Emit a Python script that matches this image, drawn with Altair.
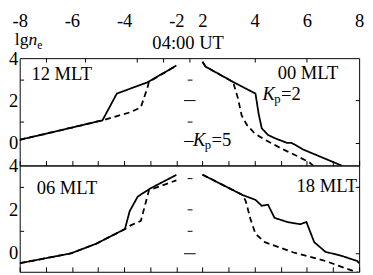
import altair as alt
import pandas as pd

FONT = "Liberation Serif"

# ---------------- data (x: distance coordinate, y: lg ne) ----------------
# top row, left: 12 MLT
p12_solid_x = [-8.0, -6.5, -4.83, -4.28, -3.11, -2.0]
p12_solid_y = [0.15, 0.58, 1.07, 2.33, 2.86, 3.65]
p12_dash_x = [-8.0, -6.5, -4.83, -3.73, -3.36, -3.11, -3.05, -2.0]
p12_dash_y = [0.15, 0.58, 1.07, 1.46, 1.69, 2.6, 2.88, 3.65]

# top row, right: 00 MLT
p00_solid_x = [2.0, 2.12, 3.17, 4.03, 4.15, 4.27, 4.51, 4.76, 5.25, 5.42, 5.86, 7.2, 7.35]
p00_solid_y = [3.83, 3.6, 2.88, 2.33, 1.38, 0.69, 0.38, 0.23, 0.0, 0.0, -0.31, -1.0, -1.08]
p00_dash_x = [2.0, 2.12, 3.17, 3.35, 3.5, 3.7, 4.0, 4.4, 5.0, 5.6, 6.1, 6.25]
p00_dash_y = [3.83, 3.6, 2.88, 2.15, 1.3, 0.85, 0.45, 0.15, -0.25, -0.6, -0.92, -1.08]

# bottom row, left: 06 MLT
p06_solid_x = [-8.0, -6.04, -5.07, -3.97, -3.79, -3.48, -3.0, -2.0]
p06_solid_y = [-0.46, -0.01, 0.43, 1.1, 1.91, 2.58, 2.95, 3.57]
p06_dash_x = [-8.0, -6.04, -5.07, -3.97, -3.73, -3.36, -3.18, -3.05, -2.0]
p06_dash_y = [-0.46, -0.01, 0.43, 1.1, 1.28, 1.47, 2.28, 2.87, 3.32]

# bottom row, right: 18 MLT
p18_solid_x = [2.0, 3.54, 4.03, 4.27, 4.51, 4.76, 5.25, 5.74, 5.98, 6.28, 6.71, 7.32, 7.93, 8.0]
p18_solid_y = [3.58, 2.65, 2.43, 2.16, 2.21, 1.61, 1.42, 1.32, 1.42, 0.5, 0.06, -0.12, -0.36, -0.46]
p18_dash_x = [2.0, 3.54, 3.66, 3.84, 4.03, 4.39, 5.49, 6.71, 7.81, 8.0]
p18_dash_y = [3.58, 2.65, 2.36, 1.54, 0.88, 0.5, 0.03, -0.36, -0.83, -0.9]

# axis tick labels (broken axis: -8..-2 | 2..8)
tick_label_values = [-8, -6, -4, -2, 2, 4, 6, 8]
y_label_values = [0, 2, 4]


def make_df(groups):
    recs = []
    for side, kp, xs, ys in groups:
        for i, (a, b) in enumerate(zip(xs, ys)):
            recs.append({"x": a, "y": b, "kp": kp, "series": side + kp, "order": i})
    return pd.DataFrame(recs)


top_df = make_df([("L", "2", p12_solid_x, p12_solid_y), ("L", "5", p12_dash_x, p12_dash_y),
                  ("R", "2", p00_solid_x, p00_solid_y), ("R", "5", p00_dash_x, p00_dash_y)])
bot_df = make_df([("L", "2", p06_solid_x, p06_solid_y), ("L", "5", p06_dash_x, p06_dash_y),
                  ("R", "2", p18_solid_x, p18_solid_y), ("R", "5", p18_dash_x, p18_dash_y)])

W = 348
FS = 19
POS = "datum.x < 0 ? datum.x + 8 : datum.x + 5"
label_pos = [v + 8 if v < 0 else v + 5 for v in tick_label_values]
XS = alt.Scale(domain=[0, 13], nice=False, zero=False)
dummy = pd.DataFrame({"d": [0]})


def txt(text, x, y, size=FS, style="normal", align="left", dx=0, dy=0, ys=None):
    return alt.Chart(dummy).mark_text(
        text=text, font=FONT, fontSize=size, fontStyle=style, align=align,
        baseline="middle", dx=dx, dy=dy, color="black"
    ).encode(x=alt.XDatum(x, axis=None, scale=XS), y=alt.YDatum(y, axis=None, scale=ys))


def row(df, ydom, h, top, right_vals, mid_short, mid_long, texts):
    YS = alt.Scale(domain=ydom, nice=False, zero=False)
    base = alt.Chart(df).transform_calculate(pos=POS)

    def X(axis):
        return alt.X("pos:Q", scale=XS, axis=axis, title=None)

    def Y(axis):
        return alt.Y("y:Q", scale=YS, axis=axis, title=None)

    ax_bottom = alt.Axis(orient="bottom", offset=-5, values=list(range(14)), labels=False,
                         domain=False, tickSize=5, grid=False)
    ax_top_lab = alt.Axis(orient="top", values=label_pos,
                          labelExpr="datum.value <= 6 ? datum.value - 8 : datum.value - 5",
                          ticks=False, domain=False, labelPadding=28, labelFont=FONT,
                          labelFontSize=FS, labelFlush=False, labelOverlap=False, grid=False)
    ax_top_tick = alt.Axis(orient="top", offset=-4, values=[1, 2.5, 4.5, 5.5, 6.5, 9, 11],
                           labels=False, domain=False, tickSize=4, grid=False)
    ay_lab = alt.Axis(orient="left", values=y_label_values, ticks=False, domain=False,
                      labelPadding=2, labelFont=FONT, labelFontSize=FS, grid=False,
                      labelOverlap=False)
    ay_ltick = alt.Axis(orient="left", offset=-4, values=[1, 3], labels=False, domain=False,
                        tickSize=4, grid=False)
    ay_rtick = alt.Axis(orient="right", offset=-4, values=right_vals, labels=False,
                        domain=False, tickSize=4, grid=False)
    ay_mshort = alt.Axis(orient="left", offset=-(6.6 * W / 13), values=mid_short, labels=False,
                         domain=False, tickSize=5, grid=False)
    ay_mlong = alt.Axis(orient="left", offset=-(6.72 * W / 13), values=mid_long, labels=False,
                        domain=False, tickSize=12, grid=False)

    lines = base.mark_line(clip=True, color="black", strokeWidth=1.8).encode(
        x=X(ax_bottom), y=Y(ay_lab),
        detail="series:N",
        strokeDash=alt.StrokeDash("kp:N", scale=alt.Scale(domain=["2", "5"], range=[[1, 0], [6, 4]]),
                                  legend=None),
        order="order:Q",
    )
    ghost = base.mark_point(opacity=0)
    layers = [
        lines,
        ghost.encode(x=X(ax_top_lab if top else None), y=Y(ay_ltick)),
        ghost.encode(x=X(ax_top_tick if top else None), y=Y(ay_rtick)),
        ghost.encode(x=X(None), y=Y(ay_mshort)),
        ghost.encode(x=X(None), y=Y(ay_mlong)),
    ]
    for t in texts:
        layers.append(txt(ys=YS, **t))
    return alt.layer(*layers).resolve_axis(x="independent", y="independent").properties(
        width=W, height=h)


top_texts = [
    dict(text="12 MLT", x=0.45, y=3.26),
    dict(text="00 MLT", x=12.2, y=3.3, align="right"),
    dict(text="K", x=9.3, y=2.3, style="italic"),
    dict(text="p", x=9.3, y=2.3, size=13, dx=12, dy=5),
    dict(text="=2", x=9.3, y=2.3, dx=19),
    dict(text="–", x=6.3, y=0.14),
    dict(text="K", x=6.3, y=0.14, style="italic", dx=9),
    dict(text="p", x=6.3, y=0.14, size=13, dx=21, dy=5),
    dict(text="=5", x=6.3, y=0.14, dx=28),
]
bot_texts = [
    dict(text="06 MLT", x=0.65, y=2.98),
    dict(text="18 MLT", x=12.92, y=3.07, align="right"),
]

top = row(top_df, [-1.06, 4], 110, True, [0, 2], [1, 3], [2], top_texts)
bottom = row(bot_df, [-0.85, 4], 109, False, [0, 3], [1, 2, 3.4], [0], bot_texts)

titles = [
    alt.Chart(dummy).mark_text(text="lg", font=FONT, fontSize=18, align="left",
                               baseline="alphabetic", color="black").encode(
        x=alt.value(-5), y=alt.value(-13)),
    alt.Chart(dummy).mark_text(text="n", font=FONT, fontSize=18, fontStyle="italic",
                               align="left", baseline="alphabetic", color="black").encode(
        x=alt.value(9), y=alt.value(-13)),
    alt.Chart(dummy).mark_text(text="e", font=FONT, fontSize=12, align="left",
                               baseline="alphabetic", color="black").encode(
        x=alt.value(18), y=alt.value(-9)),
    alt.Chart(dummy).mark_text(text="04:00 UT", font=FONT, fontSize=FS, align="center",
                               baseline="alphabetic", color="black").encode(
        x=alt.value(6.45 * W / 13), y=alt.value(-9)),
]
top = alt.layer(top, *titles).properties(width=W, height=110)

chart = alt.vconcat(top, bottom, spacing=0, bounds="flush").properties(padding=0).configure_view(
    stroke="black", strokeWidth=1
).configure_axis(grid=False, tickColor="black", labelColor="black", tickWidth=1)

chart.save("out.html", embed_options={"renderer": "svg", "actions": False})
